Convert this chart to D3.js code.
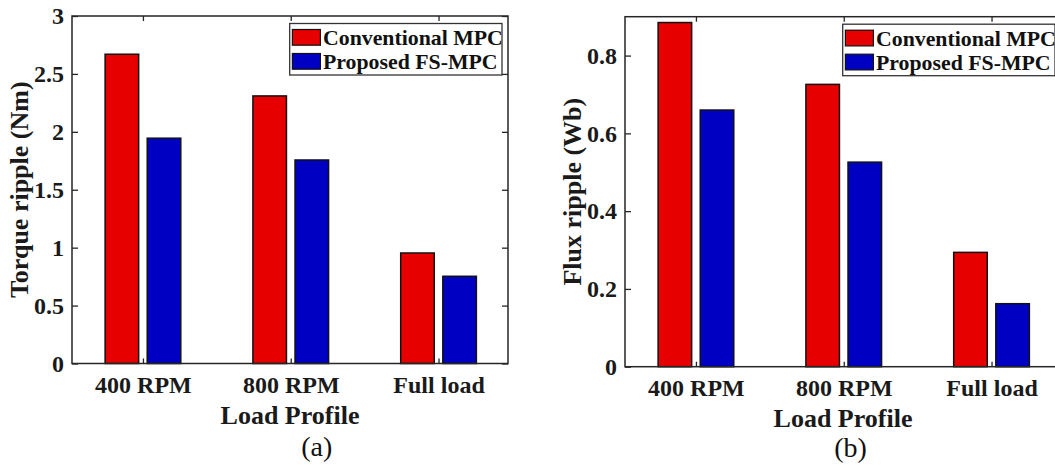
<!DOCTYPE html>
<html>
<head>
<meta charset="utf-8">
<script src="https://cdn.jsdelivr.net/npm/d3@7"></script>
<style>
  html, body { margin: 0; padding: 0; background: #fff; }
  svg { display: block; }
</style>
</head>
<body>
<svg id="chart" width="1055" height="465"></svg>
<script>
// Ripple comparison data
const categories = ["400 RPM", "800 RPM", "Full load"];
const seriesNames = ["Conventional MPC", "Proposed FS-MPC"];
const torqueConventional = [2.67, 2.31, 0.954];
const torqueProposed = [1.945, 1.757, 0.753];
const fluxConventional = [0.885, 0.726, 0.294];
const fluxProposed = [0.66, 0.526, 0.162];
const torqueTicks = [0, 0.5, 1, 1.5, 2, 2.5, 3];
const fluxTicks = [0, 0.2, 0.4, 0.6, 0.8];

const seriesColors = ["#e60000", "#0000c3"];
const axisColor = "#262626";
const FONT = "'Liberation Serif', 'Times New Roman', serif";

const panels = [
  { left: 72, right: 508, top: 16, bottom: 363.5, yMax: 3, ticks: torqueTicks,
    values: [torqueConventional, torqueProposed],
    yLabel: "Torque ripple (Nm)", caption: "(a)", capX: 316.7, capY: 456 },
  { left: 625, right: 1061, top: 16.7, bottom: 366.7, yMax: 0.9, ticks: fluxTicks,
    values: [fluxConventional, fluxProposed],
    yLabel: "Flux ripple (Wb)", caption: "(b)", capX: 850.5, capY: 457 }
];

const svg = d3.select("#chart");
const barWidth = 0.227;
const barOffsets = [-0.1425, 0.1425];

panels.forEach(p => {
  const x = d3.scaleLinear().domain([0.52, 3.47]).range([p.left, p.right]);
  const y = d3.scaleLinear().domain([0, p.yMax]).range([p.bottom, p.top]);
  const g = svg.append("g");

  // grouped bars
  p.values.forEach((vals, s) => {
    g.selectAll(null)
      .data(vals)
      .enter().append("rect")
      .attr("x", (d, i) => x(i + 1 + barOffsets[s] - barWidth / 2))
      .attr("width", (d, i) => x(i + 1 + barOffsets[s] + barWidth / 2) - x(i + 1 + barOffsets[s] - barWidth / 2))
      .attr("y", d => y(d))
      .attr("height", d => y(0) - y(d))
      .attr("fill", seriesColors[s])
      .attr("stroke", "#111")
      .attr("stroke-width", 1.5);
  });

  // left axis with labels
  const yAxis = g.append("g")
    .attr("transform", `translate(${p.left},0)`)
    .call(d3.axisLeft(y).tickValues(p.ticks).tickSize(-6).tickPadding(8).tickFormat(d => String(d)));
  // right axis ticks only
  const yAxisR = g.append("g")
    .attr("transform", `translate(${p.right},0)`)
    .call(d3.axisRight(y).tickValues(p.ticks).tickSize(-6).tickFormat(""));
  // bottom axis with category labels
  const xAxis = g.append("g")
    .attr("transform", `translate(0,${p.bottom})`)
    .call(d3.axisBottom(x).tickValues([1, 2, 3]).tickSize(-5).tickPadding(12.5).tickFormat(d => categories[d - 1]));
  // top axis ticks only
  const xAxisT = g.append("g")
    .attr("transform", `translate(0,${p.top})`)
    .call(d3.axisTop(x).tickValues([1, 2, 3]).tickSize(-5).tickFormat(""));

  [yAxis, yAxisR, xAxis, xAxisT].forEach(a => {
    a.select(".domain").remove();
    a.selectAll(".tick line").attr("stroke", axisColor).attr("stroke-width", 1.3);
    a.selectAll(".tick text")
      .attr("fill", "#1a1a1a")
      .style("font-family", FONT)
      .style("font-weight", "bold")
      .style("font-size", "24px");
  });

  // axes box
  g.append("rect")
    .attr("x", p.left).attr("y", p.top)
    .attr("width", p.right - p.left).attr("height", p.bottom - p.top)
    .attr("fill", "none")
    .attr("stroke", axisColor)
    .attr("stroke-width", 1.5);

  // axis titles
  g.append("text")
    .attr("transform", `translate(${p.left - 44},${(p.top + p.bottom) / 2}) rotate(-90)`)
    .attr("text-anchor", "middle")
    .attr("fill", "#1a1a1a")
    .style("font-family", FONT).style("font-weight", "bold").style("font-size", "26px")
    .text(p.yLabel);

  g.append("text")
    .attr("x", (p.left + p.right) / 2)
    .attr("y", p.bottom + 60)
    .attr("text-anchor", "middle")
    .attr("fill", "#1a1a1a")
    .style("font-family", FONT).style("font-weight", "bold").style("font-size", "26px")
    .text("Load Profile");

  // panel caption
  g.append("text")
    .attr("x", p.capX)
    .attr("y", p.capY)
    .attr("text-anchor", "middle")
    .attr("fill", "#111")
    .style("font-family", FONT).style("font-size", "28px")
    .text(p.caption);

  // legend
  const lw = 212.3, lh = 51.5;
  const lx = p.right - 6 - lw, ly = p.top + 7.5;
  const leg = g.append("g").attr("transform", `translate(${lx},${ly})`);
  leg.append("rect")
    .attr("width", lw).attr("height", lh)
    .attr("fill", "#fff")
    .attr("stroke", "#333").attr("stroke-width", 1.3);
  seriesNames.forEach((name, s) => {
    leg.append("rect")
      .attr("x", 2.7).attr("y", 6 + s * 24)
      .attr("width", 28).attr("height", 15.7)
      .attr("fill", seriesColors[s])
      .attr("stroke", "#111").attr("stroke-width", 1.2);
    leg.append("text")
      .attr("x", 33.3).attr("y", 21.5 + s * 24)
      .attr("fill", "#111")
      .style("font-family", FONT).style("font-weight", "bold").style("font-size", "21.8px")
      .text(name);
  });
});
</script>
</body>
</html>
